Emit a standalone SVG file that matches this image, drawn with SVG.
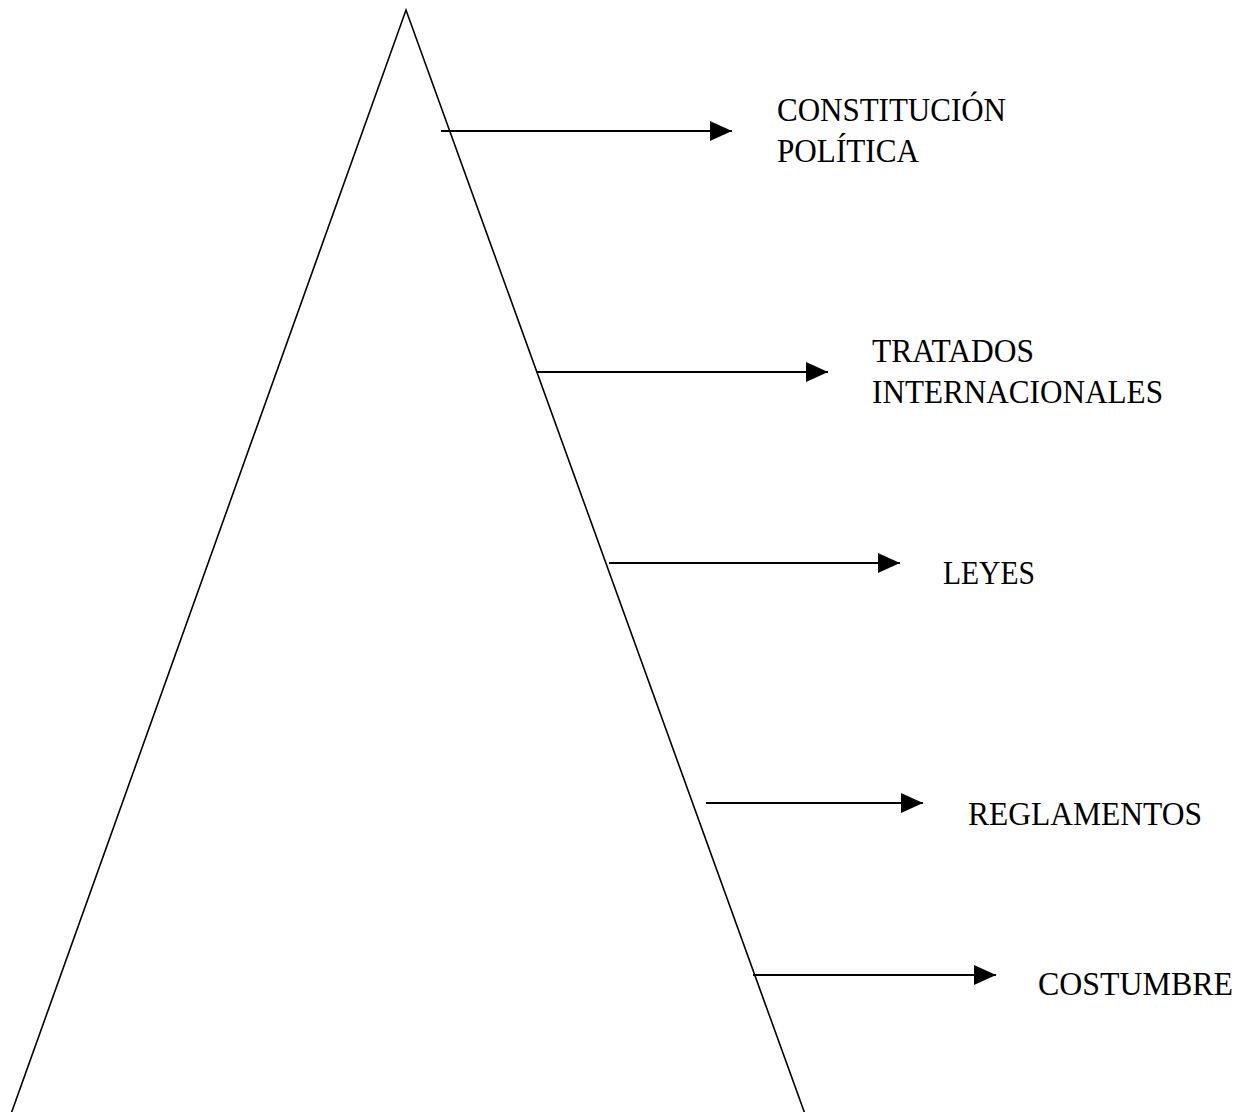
<svg xmlns="http://www.w3.org/2000/svg" width="1245" height="1112" viewBox="0 0 1245 1112">
<style>
.edge{stroke:#000;stroke-width:2;fill:none}
.lbl{font-family:"Liberation Serif","Times New Roman",serif;font-size:33px;fill:#000}
</style>
<defs>
<marker id="ah" markerUnits="userSpaceOnUse" markerWidth="24" markerHeight="22" refX="22" refY="10" orient="auto">
<path d="M0,0 L22,10 L0,20 Z" fill="#000"/>
</marker>
</defs>
<rect width="1245" height="1112" fill="#fff"/>
<g id="pyramid">
<path d="M11,1114 L406,10 L805,1114" fill="none" stroke="#000" stroke-width="1.6"/>
</g>
<g id="connectors">
<line class="edge" x1="441" y1="131" x2="732" y2="131" marker-end="url(#ah)"/>
<line class="edge" x1="537" y1="372" x2="828" y2="372" marker-end="url(#ah)"/>
<line class="edge" x1="609" y1="563" x2="900" y2="563" marker-end="url(#ah)"/>
<line class="edge" x1="706" y1="803" x2="923" y2="803" marker-end="url(#ah)"/>
<line class="edge" x1="753" y1="975" x2="996" y2="975" marker-end="url(#ah)"/>
</g>
<g id="n1"><text class="lbl" x="777" y="121" textLength="229" lengthAdjust="spacingAndGlyphs">CONSTITUCIÓN</text><text class="lbl" x="777" y="162" textLength="142" lengthAdjust="spacingAndGlyphs">POLÍTICA</text></g>
<g id="n2"><text class="lbl" x="872" y="362" textLength="162" lengthAdjust="spacingAndGlyphs">TRATADOS</text><text class="lbl" x="872" y="403" textLength="291" lengthAdjust="spacingAndGlyphs">INTERNACIONALES</text></g>
<g id="n3"><text class="lbl" x="943" y="584" textLength="92" lengthAdjust="spacingAndGlyphs">LEYES</text></g>
<g id="n4"><text class="lbl" x="968" y="825" textLength="234" lengthAdjust="spacingAndGlyphs">REGLAMENTOS</text></g>
<g id="n5"><text class="lbl" x="1038" y="995" textLength="195" lengthAdjust="spacingAndGlyphs">COSTUMBRE</text></g>
</svg>
